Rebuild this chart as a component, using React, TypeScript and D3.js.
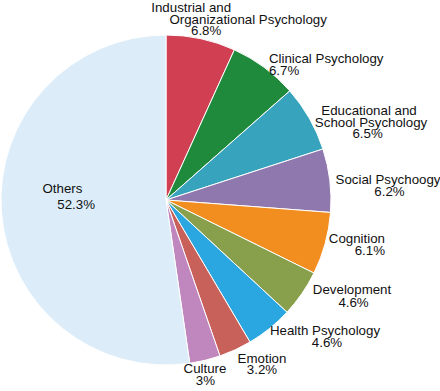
import React from "react";
import * as d3 from "d3";

const categories = [
  "Industrial and Organizational Psychology",
  "Clinical Psychology",
  "Educational and School Psychology",
  "Social Psychoogy",
  "Cognition",
  "Development",
  "Health Psychology",
  "Emotion",
  "Culture",
  "Others",
];
const values = [6.8, 6.7, 6.5, 6.2, 6.1, 4.6, 4.6, 3.2, 3, 52.3];
const pctLabels = ["6.8%", "6.7%", "6.5%", "6.2%", "6.1%", "4.6%", "4.6%", "3.2%", "3%", "52.3%"];
const labelLines = [
  ["Industrial and", "Organizational Psychology"],
  ["Clinical Psychology"],
  ["Educational and", "School Psychology"],
  ["Social Psychoogy"],
  ["Cognition"],
  ["Development"],
  ["Health Psychology"],
  ["Emotion"],
  ["Culture"],
  ["Others"],
];
const colors = [
  "#d03f52", "#1f8a3c", "#38a3bd", "#8f78ae", "#f28d1f",
  "#88a04b", "#2aa6e0", "#c9615b", "#c086be", "#dcedf9",
];

// label layout: radius, block offset, anchor, per-line dx, line height
const layout = [
  { k: 180, dx: 0, dy: -12, anchor: "middle", lineDx: [-13, 44, 2], lh: 11.6 },
  { k: 180, dx: -4.2, dy: 7.6, anchor: "start", lineDx: [0, 0], lh: 11.8 },
  { k: 180, dx: 46.7, dy: 4.2, anchor: "middle", lineDx: [0, 2, -1.5], lh: 11.7 },
  { k: 180, dx: 43.3, dy: 5.7, anchor: "middle", lineDx: [0, 1.5], lh: 12.2 },
  { k: 180, dx: 45.4, dy: -4.2, anchor: "end", lineDx: [0, 0], lh: 11.7 },
  { k: 180, dx: 37.8, dy: -8.1, anchor: "middle", lineDx: [0, 1.5], lh: 12.6 },
  { k: 180, dx: 46, dy: -5.1, anchor: "middle", lineDx: [0, 2], lh: 11.7 },
  { k: 180, dx: 20.4, dy: -0.6, anchor: "middle", lineDx: [0, 0], lh: 11.6 },
  { k: 180, dx: -3.6, dy: -1.6, anchor: "middle", lineDx: [0, 0.5], lh: 11.7 },
  { k: 99, dx: 0, dy: -13.8, anchor: "middle", lineDx: [-4.8, 8.9], lh: 16 },
];

export default function App() {
  const W = 440, H = 391;
  const cx = 166, cy = 200, r = 165;
  const data = values.map((v, i) => ({ v, i, name: categories[i] }));
  const pie = d3.pie<any>().value((d) => d.v).sort(null);
  const arcs = pie(data);
  const arc = d3.arc<any>().innerRadius(0).outerRadius(r);

  return (
    <svg
      width={W}
      height={H}
      style={{ position: "absolute", left: 0, top: 0, background: "#fff" }}
      fontFamily="'Liberation Sans', Arial, sans-serif"
      fontSize={13.3}
    >
      <g transform={`translate(${cx},${cy})`}>
        {arcs.map((a, i) => (
          <path key={i} d={arc(a) as string} fill={colors[i]} stroke="#fff" strokeWidth={1} />
        ))}
        {arcs.map((a, i) => {
          const L = layout[i];
          const mid = (a.startAngle + a.endAngle) / 2;
          const x = Math.sin(mid) * L.k + L.dx;
          const y = -Math.cos(mid) * L.k + L.dy;
          const lines = [...labelLines[i], pctLabels[i]];
          return (
            <text key={i} textAnchor={L.anchor as any} fill="#111">
              {lines.map((t, j) => (
                <tspan key={j} x={x + (L.lineDx[j] || 0)} y={y + j * L.lh}>
                  {t}
                </tspan>
              ))}
            </text>
          );
        })}
      </g>
    </svg>
  );
}
